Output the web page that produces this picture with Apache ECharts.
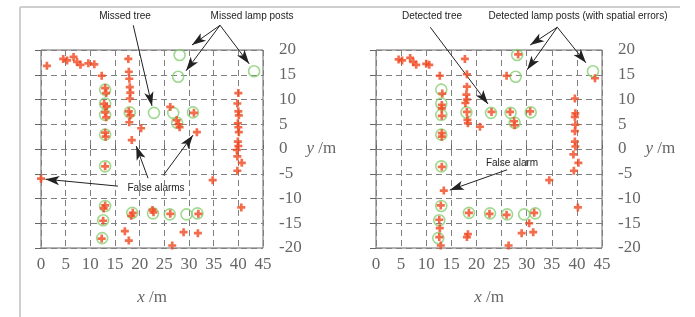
<!DOCTYPE html>
<html>
<head>
<meta charset="utf-8">
<script src="https://cdn.jsdelivr.net/npm/echarts@6/dist/echarts.min.js"></script>
<style>
html, body { margin: 0; padding: 0; background: #fff; }
#chart { width: 695px; height: 317px; }
</style>
</head>
<body>
<div id="chart"></div>
<script>
// ground truth trees / lamp posts (green circles), same in both panels
var groundTruth = [
    [13, 12], [13, 9.2], [13, 6.9], [13, 2.9], [18, 7.4], [22.9, 7.3],
    [28.1, 19], [27.8, 14.6], [43.2, 15.7], [26.8, 7.3], [27.6, 5.3], [30.8, 7.4],
    [13, -3.5], [13, -11.5], [12.6, -14.4], [12.4, -18], [18.5, -12.9],
    [22.7, -13], [26.1, -13.2], [29.5, -13.2], [31.7, -13]
];

// red detections, left panel
var leftDetections = [
    [1.2, 16.8], [4.5, 18.2], [5.3, 17.9], [6.6, 18.6], [7.3, 17.6], [8, 17], [9.6, 17.3], [10.8, 17.1],
    [12.3, 14.8],
    [13, 12.3], [13.2, 11.3], [12.8, 9.1], [13.3, 8.6], [13, 7.4], [13.2, 6.4], [13, 3.3], [13.1, 2.5],
    [17.7, 18.2], [17.8, 15.6], [17.9, 14.2], [18, 12.5], [18.1, 11.4], [18, 10.2], [17.8, 7.6], [18.1, 6.8], [17.9, 5.4],
    [20.3, 4.2], [18.4, 1.8],
    [26.2, 8.5], [27.5, 5.8], [27.9, 5], [28.1, 4.4], [31, 7.3], [31.6, 3.4],
    [40, 11.3], [39.8, 9.2], [40, 7.6], [40.1, 6.8], [39.9, 5.2], [40, 4.4], [40.1, 3.4], [39.9, 1.5],
    [40, 0.6], [39.7, -0.2], [39.8, -1.5], [40.7, -2.8], [39.8, -4.4], [40.6, -11.8],
    [0, -6], [34.8, -6.3],
    [13, -3.5], [13, -11.4], [12.7, -12], [12.6, -14.5], [12.3, -18.1],
    [18.6, -12.9], [18.3, -13.5], [22.8, -12.8], [22.6, -12.3], [26.2, -13.1], [31.9, -13.1],
    [17, -16.6], [17.8, -18.5], [28.9, -16.8], [31.8, -17], [26.6, -19.5]
];

// red detections, right panel
var rightDetections = [
    [4.5, 18.1], [5.2, 17.9], [6.8, 18.4], [7.4, 17.6], [8, 17], [10, 17.2], [10.6, 17],
    [12.7, 14.8],
    [17.7, 18.2], [18.1, 15.1],
    [18.1, 12.6], [18, 11], [18.1, 10], [17.8, 9.3], [18.1, 7.5], [18.2, 5.9], [18.3, 5.2],
    [13.2, 11.2], [13.1, 8.9], [13.1, 8.2], [13.1, 6.7], [13.1, 3.2], [13.1, 2.5],
    [20.7, 4.5], [23, 7.5], [26, 14.8], [28.3, 19.1], [26.7, 7.5], [27.5, 5.6], [27.6, 4.8], [30.7, 7.6], [43.6, 14.3],
    [39.6, 10.2], [39.7, 7.2], [39.6, 6.5], [39.7, 4.9], [39.6, 3.6], [39.6, 1.5], [39.7, 0.5],
    [39.3, -1.1], [40.3, -2.8], [39.4, -4.4], [40.2, -11.8],
    [13.1, -3.6], [13.5, -8.4], [34.5, -6.3],
    [12.9, -11.4], [12.6, -14.3], [12.7, -16], [12.6, -17.8], [12.9, -19.5],
    [18.5, -12.9], [22.6, -13.1], [26, -13.3], [31.5, -12.9], [30.5, -15],
    [18.3, -17.2], [18.1, -17.8], [29, -17], [31.3, -16.8], [26.4, -19.5]
];

var xTicks = { min: 0, max: 45, interval: 5 };
var yTicks = { min: -20, max: 20, interval: 5 };

// annotation arrows in data units: [from, to]
var leftArrows = [
    [[18.7, 25], [22.5, 8.7]],
    [[36.3, 25], [30.6, 21]],
    [[36.3, 25], [29.4, 15.8]],
    [[36.3, 25], [42.2, 17.2]],
    [[21.7, -5.9], [19.3, 0.6]],
    [[24.8, -5.3], [30.8, 2.8]],
    [[15.6, -7.5], [0.9, -6.1]]
];
var rightArrows = [
    [[10.8, 24.6], [22.3, 9.1]],
    [[36.1, 24.6], [30.7, 21]],
    [[36.1, 24.6], [30.1, 16]],
    [[36.1, 24.6], [41.8, 17.4]],
    [[26.1, -4.2], [14.7, -8.3]]
];

var notes = [
    { text: 'Missed tree', x: 125, y: 16 },
    { text: 'Missed lamp posts', x: 252, y: 16 },
    { text: 'False alarms', x: 156, y: 188 },
    { text: 'Detected tree', x: 432, y: 16 },
    { text: 'Detected lamp posts (with spatial errors)', x: 578, y: 16 },
    { text: 'False alarm', x: 512, y: 163 }
];

var serif = '"Liberation Serif", "DejaVu Serif", serif';
var plusPath = 'path://M3,0H6V3H9V6H6V9H3V6H0V3H3Z';

function xAxisFor(i) {
    return {
        gridIndex: i, type: 'value', min: xTicks.min, max: xTicks.max, interval: xTicks.interval,
        name: '{i|x} /m', nameLocation: 'middle', nameGap: 41,
        nameTextStyle: { fontFamily: serif, fontSize: 17, color: '#666', rich: { i: { fontFamily: serif, fontStyle: 'italic', fontSize: 17, color: '#666' } } },
        axisLine: { show: false },
        axisTick: { show: true, inside: true, length: 4, lineStyle: { color: '#666' } },
        axisLabel: { margin: 8, fontFamily: serif, fontSize: 17, color: '#666' },
        splitLine: { show: true, lineStyle: { color: '#808080', type: [6, 4], width: 1 } }
    };
}

function yAxisFor(i) {
    return {
        gridIndex: i, type: 'value', position: 'right', min: yTicks.min, max: yTicks.max, interval: yTicks.interval,
        name: '{i|y} /m', nameLocation: 'middle', nameRotate: 0, nameGap: 31,
        nameTextStyle: { fontFamily: serif, fontSize: 17, color: '#666', rich: { i: { fontFamily: serif, fontStyle: 'italic', fontSize: 17, color: '#666' } } },
        axisLine: { show: false },
        axisTick: { show: true, inside: true, length: 6, lineStyle: { color: '#666' } },
        axisLabel: { margin: 16, fontFamily: serif, fontSize: 17, color: '#666' },
        splitLine: { show: true, lineStyle: { color: '#808080', type: [6, 4], width: 1 } }
    };
}

function panelSeries(i, detections, arrows) {
    return [
        {
            type: 'scatter', xAxisIndex: i, yAxisIndex: i, data: groundTruth,
            symbol: 'circle', symbolSize: 11, clip: false, silent: true,
            itemStyle: { color: 'rgba(0,0,0,0)', borderColor: '#86d072', borderWidth: 1.6 }
        },
        {
            type: 'scatter', xAxisIndex: i, yAxisIndex: i, data: detections,
            symbol: plusPath, symbolSize: 8, clip: false, silent: true,
            itemStyle: { color: '#f04820' }
        },
        {
            type: 'lines', coordinateSystem: 'cartesian2d', xAxisIndex: i, yAxisIndex: i, clip: false, silent: true,
            symbol: ['none', 'arrow'], symbolSize: [0, [7, 14]],
            lineStyle: { color: '#222', width: 1, opacity: 1 },
            data: arrows.map(function (a) { return { coords: a }; })
        }
    ];
}

var chart = echarts.init(document.getElementById('chart'));
chart.setOption({
    animation: false,
    backgroundColor: '#fff',
    grid: [
        { left: 41, top: 50, width: 222, height: 198, show: true, borderColor: '#666', borderWidth: 1, backgroundColor: 'transparent' },
        { left: 376, top: 50, width: 226, height: 198, show: true, borderColor: '#666', borderWidth: 1, backgroundColor: 'transparent' }
    ],
    xAxis: [xAxisFor(0), xAxisFor(1)],
    yAxis: [yAxisFor(0), yAxisFor(1)],
    series: panelSeries(0, leftDetections, leftArrows).concat(panelSeries(1, rightDetections, rightArrows)),
    graphic: [
        { type: 'line', shape: { x1: 20, y1: 7, x2: 680, y2: 7 }, style: { stroke: '#cfcfcf', lineWidth: 2 } },
        { type: 'line', shape: { x1: 20, y1: 7, x2: 20, y2: 317 }, style: { stroke: '#cfcfcf', lineWidth: 2 } }
    ].concat(notes.map(function (n) {
        return {
            type: 'text', x: n.x, y: n.y,
            style: { text: n.text, align: 'center', verticalAlign: 'middle', font: '10px "Liberation Sans", Arial, sans-serif', fill: '#222' }
        };
    }))
});
</script>
</body>
</html>
